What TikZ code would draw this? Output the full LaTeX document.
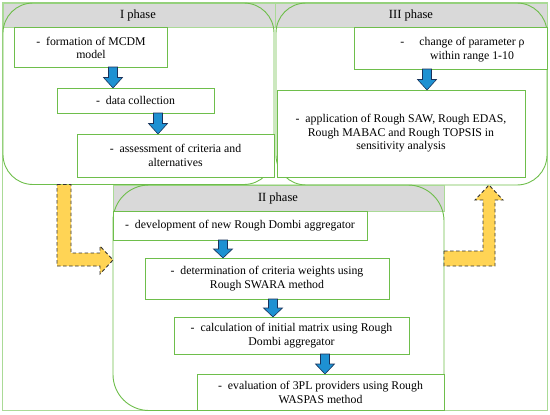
\documentclass[tikz,border=0pt]{standalone}
\usepackage{fontspec}
\setmainfont{Liberation Serif}
\usetikzlibrary{fit,calc}
\definecolor{gr}{RGB}{110,190,75}
\definecolor{palegr}{RGB}{170,218,150}
\definecolor{hdrgray}{RGB}{217,217,217}
\definecolor{arrblue}{RGB}{30,145,210}
\definecolor{arrnavy}{RGB}{25,50,90}
\definecolor{arryel}{RGB}{255,212,85}
\definecolor{dashgray}{RGB}{50,50,50}
\newcommand{\blkdown}[3]{%
  \path[bluearr] let \p1=(#2), \p2=(#3), \n1={(\y1+\y2)/2} in
    (#1pt-4.5pt,\y1) -- (#1pt+4.5pt,\y1) -- (#1pt+4.5pt,\n1) -- (#1pt+9.5pt,\n1)
    -- (#1pt,\y2) -- (#1pt-9.5pt,\n1) -- (#1pt-4.5pt,\n1) -- cycle;}
\begin{document}
\begin{tikzpicture}[x=1pt,y=-1pt,
  box/.style={draw=gr, line width=0.9pt, fill=white, inner sep=0pt, outer sep=0pt},
  txt/.style={inner sep=0pt, align=center, font=\fontsize{11.8}{13.6}\selectfont},
  phase/.style={draw=gr, line width=0.9pt, inner sep=0pt, outer sep=0pt, rounded corners=30pt},
  hdr/.style={fill=hdrgray, draw=palegr, line width=0.6pt, inner sep=0pt, outer sep=0pt},
  htext/.style={font=\fontsize{12.5}{14}\selectfont, inner sep=0pt},
  bluearr/.style={fill=arrblue, draw=arrnavy, line width=0.6pt},
  yelarr/.style={fill=arryel, draw=dashgray, line width=0.9pt, dash pattern=on 3.5pt off 2.5pt}]
\useasboundingbox (0,0) rectangle (550,415);
\node[fit={(2,2) (547.5,410.5)}, draw=palegr, line width=0.8pt, inner sep=0pt] (frame) {};
% headers I and III
\node[hdr, fit={(3,3) (275,27)}] (H1) {};
\node[hdr, fit={(275,3) (547,27)}] (H3) {};
\node[htext] (H1t) at (138,15) {I phase};
\node[htext] (H3t) at (411,15) {III phase};
% phase outlines
\node[phase, fit={(3,3) (274,184.5)}] (P1) {};
\node[phase, fit={(276,3) (547,185)}] (P3) {};
% phase II
\node[hdr, fit={(113,185) (444,211)}] (H2) {};
\node[htext] (H2t) at (278,198) {II phase};
\node[phase, rounded corners=36pt, fit={(113,185) (444,410.5)}] (P2) {};
% phase I boxes
\node[box, fit={(14,27) (167,67)}] (I1) {};
\node[txt] (I1t) at (91,48) {-\ \ formation of MCDM\\model};
\node[box, fit={(57,88) (214,113)}] (I2) {};
\node[txt] (I2t) at (I2.center) {-\ \ data collection};
\node[box, fit={(77,134) (274,177)}] (I3) {};
\node[txt] (I3t) at (I3.center) {-\ \ assessment of criteria and\\alternatives};
% phase III boxes
\node[box, fit={(354,27) (547,69)}] (T1) {};
\node[txt] (T1t) at (472,49.5) {\llap{-\hspace{15pt}}change of parameter ρ\\within range 1-10};
\node[box, fit={(277,90) (525,177)}] (T2) {};
\node[txt] (T2t) at (T2.center) {-\ \ application of Rough SAW, Rough EDAS,\\Rough MABAC and Rough TOPSIS in\\sensitivity analysis};
% phase II boxes
\node[box, fit={(113,211) (367,240)}] (S1) {};
\node[txt] (S1t) at (S1.center) {-\ \ development of new Rough Dombi aggregator};
\node[box, fit={(145,258) (389,299)}] (S2) {};
\node[txt] (S2t) at (S2.center) {-\ \ determination of criteria weights using\\Rough SWARA method};
\node[box, fit={(174,317) (409,354)}] (S3) {};
\node[txt] (S3t) at (S3.center) {-\ \ calculation of initial matrix using Rough\\Dombi aggregator};
\node[box, fit={(197,374) (444,410.5)}] (S4) {};
\node[txt] (S4t) at (S4.center) {-\ \ evaluation of 3PL providers using Rough\\WASPAS method};
% blue arrows
\blkdown{113}{I1.south}{I2.north}
\blkdown{158}{I2.south}{I3.north}
\blkdown{427}{T1.south}{T2.north}
\blkdown{223}{S1.south}{S2.north}
\blkdown{273}{S2.south}{S3.north}
\blkdown{325}{S3.south}{S4.north}
% yellow arrows
\path[yelarr] let \p1=(P1.south), \p2=(P2.west) in
  (57pt,\y1) -- (71pt,\y1) -- (71,253) -- (100,253) -- (100,246) -- (\x2,-260pt)
  -- (100,274) -- (100,266) -- (57,266) -- cycle;
\path[yelarr] let \p1=(P2.east), \p2=(P3.south) in
  (\x1,-251pt) -- (483,251) -- (483,200) -- (475,200) -- (489pt,\y2) -- (503,200)
  -- (495,200) -- (495,266) -- (\x1,-266pt) -- cycle;
\end{tikzpicture}
\end{document}
